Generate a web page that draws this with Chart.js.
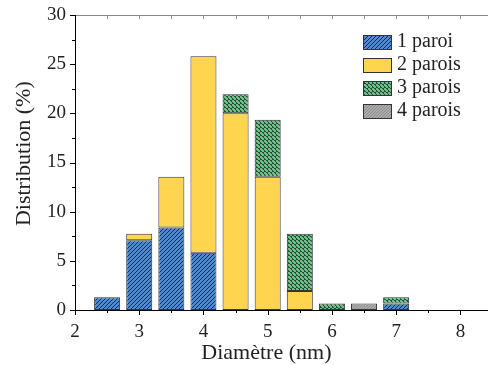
<!DOCTYPE html>
<html>
<head>
<meta charset="utf-8">
<script src="https://cdn.jsdelivr.net/npm/chart.js@4.4.1/dist/chart.umd.min.js"></script>
<style>
html,body{margin:0;padding:0;background:#fff;overflow:hidden;}
#c{display:block;}
</style>
</head>
<body>
<canvas id="c" width="488" height="365"></canvas>
<script>
// diameters (bin centres, nm) and share of tubes (%) per wall count
const diam = [2.5, 3, 3.5, 4, 4.5, 5, 5.5, 6, 6.5, 7];
const paroi1  = [1.29, 7.10, 8.39, 5.81, null, null, null, null, null, 0.65];
const parois2 = [null, 0.65, 5.16, 20.0, 20.0, 13.55, 1.94, null, null, null];
const parois3 = [null, null, null, null, 1.94, 5.81, 5.81, 0.65, null, 0.65];
const parois4 = [null, null, null, null, null, null, null, null, 0.65, null];
const seriesNames = ['1 paroi', '2 parois', '3 parois', '4 parois'];
const xTitle = 'Diamètre (nm)';
const yTitle = 'Distribution (%)';

const FONT = '"Liberation Serif", "Times New Roman", serif';

function tile(w, h, draw){
  const c = document.createElement('canvas'); c.width = w; c.height = h;
  const g = c.getContext('2d'); draw(g);
  return g.createPattern(c, 'repeat');
}
const ctx0 = document.getElementById('c').getContext('2d');
const blueHatch = tile(4, 4, g => {
  g.fillStyle = '#5089cc'; g.fillRect(0,0,4,4);
  g.fillStyle = '#1c2c44';
  [[3,0],[2,1],[1,2],[0,3]].forEach(p => g.fillRect(p[0], p[1], 1, 1));
});
const greenCheck = tile(4, 4, g => {
  g.fillStyle = '#2b4c37'; g.fillRect(0,0,4,4);
  g.fillStyle = '#62c488'; g.fillRect(0,0,2,2); g.fillRect(2,2,2,2);
  g.fillRect(1,1,2,2);
});
const grayDots = tile(3, 3, g => {
  g.fillStyle = '#ababab'; g.fillRect(0,0,3,3);
  g.fillStyle = '#8e8e8e'; g.fillRect(0,0,1,1); g.fillRect(2,1,1,1); g.fillRect(1,2,1,1);
});
const fills = [blueHatch, '#ffd54f', greenCheck, grayDots];

function pts(arr){
  return diam.map((x, i) => ({x: x, y: arr[i]})).filter(p => p.y !== null);
}
const allSeries = [paroi1, parois2, parois3, parois4];

const axesPlugin = {
  id: 'axes',
  afterDatasetsDraw(chart){
    const {ctx, chartArea: a, scales: {x, y}} = chart;
    ctx.save();
    ctx.lineWidth = 1;
    // top frame (gray, inward ticks)
    ctx.strokeStyle = '#8a8a8a';
    ctx.beginPath(); ctx.moveTo(a.left, a.top + 0.5); ctx.lineTo(a.right, a.top + 0.5); ctx.stroke();
    x.ticks.forEach(t => {
      const px = Math.round(x.getPixelForValue(t.value)) + 0.5;
      if (px <= a.left + 1) return;
      ctx.beginPath(); ctx.moveTo(px, a.top); ctx.lineTo(px, a.top + 4); ctx.stroke();
    });
    // left + bottom axes
    ctx.strokeStyle = '#000';
    ctx.beginPath();
    ctx.moveTo(a.left + 0.5, a.top); ctx.lineTo(a.left + 0.5, a.bottom + 0.5);
    ctx.lineTo(a.right, a.bottom + 0.5);
    ctx.stroke();
    y.ticks.forEach(t => {
      const py = Math.round(y.getPixelForValue(t.value)) + 0.5;
      const len = t.value % 5 === 0 ? 5 : 3;
      ctx.beginPath(); ctx.moveTo(a.left, py); ctx.lineTo(a.left - len, py); ctx.stroke();
    });
    x.ticks.forEach(t => {
      const px = Math.round(x.getPixelForValue(t.value)) + 0.5;
      const len = t.value % 1 === 0 ? 5 : 3;
      ctx.beginPath(); ctx.moveTo(px, a.bottom); ctx.lineTo(px, a.bottom + len); ctx.stroke();
    });
    // axis titles
    ctx.fillStyle = '#222';
    ctx.font = '22px ' + FONT;
    ctx.textAlign = 'center';
    ctx.textBaseline = 'middle';
    ctx.fillText(xTitle, x.getPixelForValue(4.98), 353);
    ctx.save();
    ctx.translate(24, y.getPixelForValue(15.9));
    ctx.rotate(-Math.PI / 2);
    ctx.fillText(yTitle, 0, 0);
    ctx.restore();
    // legend
    ctx.font = '20px ' + FONT;
    ctx.textAlign = 'left';
    chart.data.datasets.forEach((ds, i) => {
      const bx = 363, by = 35 + i * 23;
      ctx.fillStyle = ds.backgroundColor; ctx.fillRect(bx, by, 28, 14);
      ctx.strokeStyle = '#333'; ctx.strokeRect(bx + 0.5, by + 0.5, 28, 14);
      ctx.fillStyle = '#222'; ctx.fillText(ds.label, bx + 34, by + 7);
    });
    ctx.restore();
  }
};

new Chart(ctx0, {
  type: 'bar',
  data: {
    datasets: allSeries.map((s, i) => ({
      label: seriesNames[i],
      data: pts(s),
      backgroundColor: fills[i],
      borderColor: '#333',
      borderWidth: 1,
      borderSkipped: false,
      barPercentage: 0.81,
      categoryPercentage: 1
    }))
  },
  options: {
    responsive: false,
    devicePixelRatio: 1,
    animation: false,
    layout: {padding: {top: 15, right: 0, left: 0, bottom: 0}},
    plugins: {legend: {display: false}, tooltip: {enabled: false}},
    scales: {
      x: {
        type: 'linear', stacked: true, offset: false, min: 2, max: 8.43,
        grid: {display: false, drawTicks: false, offset: false},
        border: {display: false},
        afterFit: s => { s.height = 55; s.paddingLeft = 0; s.paddingRight = 0; },
        ticks: {
          stepSize: 0.5, includeBounds: false, autoSkip: false, maxRotation: 0,
          padding: 11, color: '#222', font: {family: FONT, size: 19},
          callback: v => (v % 1 === 0 ? v : '')
        },
        title: {display: false}
      },
      y: {
        stacked: true, min: 0, max: 30,
        grid: {display: false, drawTicks: false},
        border: {display: false},
        afterFit: s => { s.width = 75; s.paddingTop = 0; s.paddingBottom = 0; },
        ticks: {
          stepSize: 2.5, autoSkip: false, padding: 9, color: '#222',
          font: {family: FONT, size: 19},
          callback: v => (v % 5 === 0 ? v : '')
        },
        title: {display: false}
      }
    }
  },
  plugins: [axesPlugin]
});
</script>
</body>
</html>
